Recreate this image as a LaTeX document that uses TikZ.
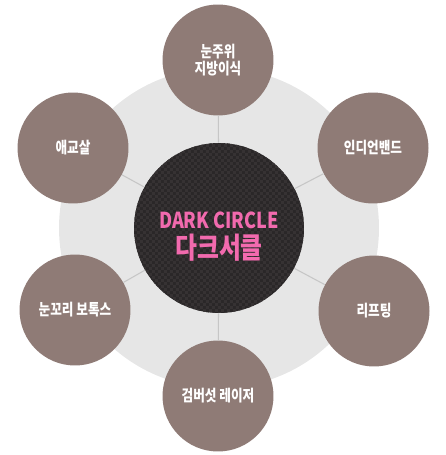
\documentclass[tikz,border=0pt]{standalone}
\usepackage{fontspec}
\setmainfont{Noto Sans CJK KR}
\newfontfamily\petalfont{Noto Sans CJK KR Black}[FakeStretch=0.8]
\newfontfamily\titlefont{Noto Sans CJK KR Black}[FakeStretch=0.82]
\usepackage{tikz}
\usetikzlibrary{patterns}
\definecolor{taupe}{HTML}{8F7B76}
\definecolor{ringgray}{HTML}{E6E6E6}
\definecolor{spoke}{HTML}{C6C6C6}
\definecolor{darkbg}{HTML}{2A2728}
\definecolor{checker}{HTML}{363233}
\definecolor{pinktext}{HTML}{F26AAE}
\pgfdeclarepatternformonly{finechecker}{\pgfpointorigin}{\pgfqpoint{3.4pt}{3.4pt}}{\pgfqpoint{3.4pt}{3.4pt}}{
	\pgfpathrectangle{\pgfpointorigin}{\pgfqpoint{1.7pt}{1.7pt}}
	\pgfpathrectangle{\pgfqpoint{1.7pt}{1.7pt}}{\pgfqpoint{1.7pt}{1.7pt}}
	\pgfusepath{fill}}

\begin{document}
\begin{tikzpicture}[x=0.02cm, y=-0.02cm,
		petal/.style={circle, fill=taupe, minimum size=2.22cm, inner sep=0pt, text=white, align=center, font=\petalfont\fontsize{9}{9.4}\selectfont}]
			\useasboundingbox (0,0) rectangle (445,455);
			\fill[ringgray] (219,228) circle[radius=3.2cm];
			\node[circle, fill=darkbg, minimum size=3.4cm, postaction={pattern=finechecker, pattern color=checker}] (dark) at (219,228) {};
			\node[petal] (eyefat) at (218,60) {눈주위\\지방이식};
			\node[petal] (indian) at (373,148) {인디언밴드};
			\node[petal] (lifting) at (374,311) {리프팅};
			\node[petal] (laser) at (218,396) {검버섯 레이저};
			\node[petal] (botox) at (75,310) {눈꼬리 보톡스};
			\node[petal] (aegyo) at (73,148) {애교살};
			\foreach \n in {eyefat,indian,lifting,laser,botox,aegyo}
				\draw[spoke, line width=0.6pt] (dark) -- (\n);
			\node[pinktext, font=\titlefont\fontsize{12.5}{13}\selectfont] (en) at (219,220) {DARK CIRCLE};
			\node[pinktext, font=\titlefont\fontsize{16.5}{17}\selectfont] (ko) at (219,248) {다크서클};
			\end{tikzpicture}
\end{document}
